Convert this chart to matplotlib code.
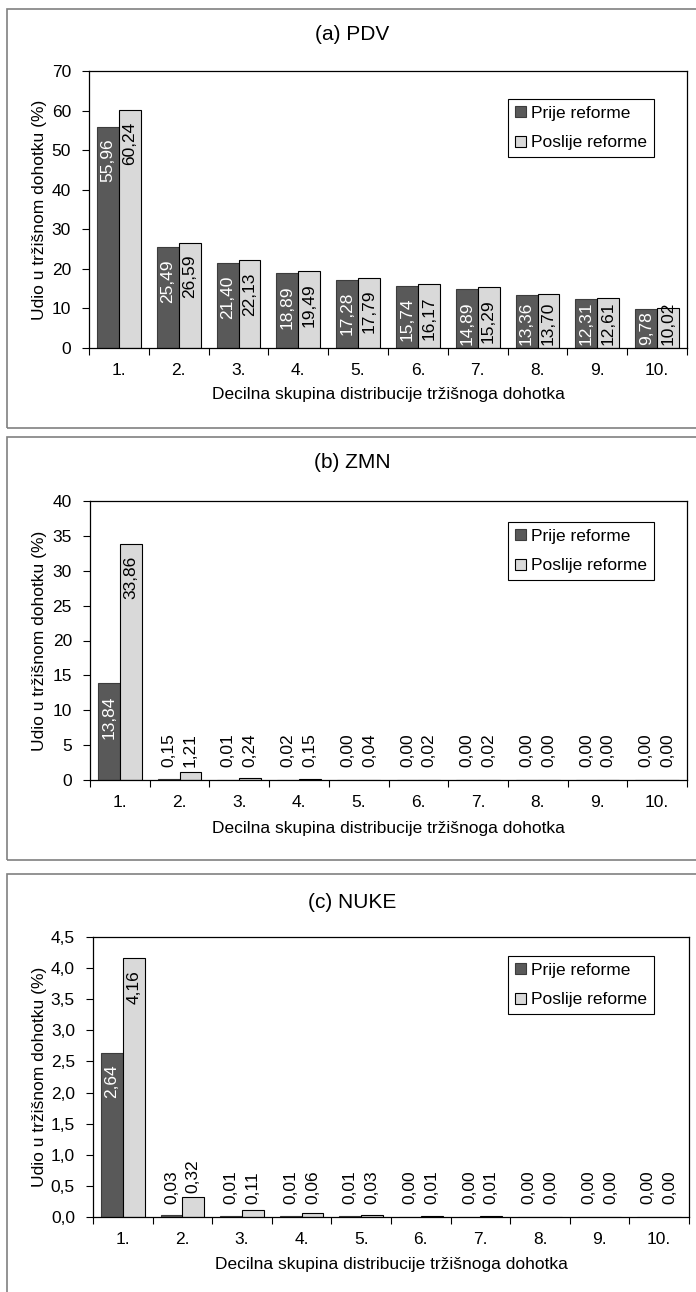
import matplotlib
matplotlib.use("Agg")
import matplotlib.pyplot as plt
from matplotlib.patches import Rectangle
from matplotlib.ticker import FixedLocator, FuncFormatter

plt.rcParams['font.family'] = ['Liberation Sans', 'DejaVu Sans']
plt.rcParams['font.size'] = 12.5

# podaci
decili = ["1.", "2.", "3.", "4.", "5.", "6.", "7.", "8.", "9.", "10."]
serije = ["Prije reforme", "Poslije reforme"]

pdv_prije = [55.96, 25.49, 21.40, 18.89, 17.28, 15.74, 14.89, 13.36, 12.31, 9.78]
pdv_poslije = [60.24, 26.59, 22.13, 19.49, 17.79, 16.17, 15.29, 13.70, 12.61, 10.02]

zmn_prije = [13.84, 0.15, 0.01, 0.02, 0.00, 0.00, 0.00, 0.00, 0.00, 0.00]
zmn_poslije = [33.86, 1.21, 0.24, 0.15, 0.04, 0.02, 0.02, 0.00, 0.00, 0.00]

nuke_prije = [2.64, 0.03, 0.01, 0.01, 0.01, 0.00, 0.00, 0.00, 0.00, 0.00]
nuke_poslije = [4.16, 0.32, 0.11, 0.06, 0.03, 0.01, 0.01, 0.00, 0.00, 0.00]

naslovi = ["(a) PDV", "(b) ZMN", "(c) NUKE"]
y_max = [70, 40, 4.5]
y_korak = [10, 5, 0.5]

xlabel = "Decilna skupina distribucije tržišnoga dohotka"
ylabel = "Udio u tržišnom dohotku (%)"

# raspored u pikselima (slika 696x1292)
W, H = 696, 1292
DPI = 100
PT = 72 / DPI
# (lijevo, desno, gore, dolje) osi
osi_px = [(89, 687, 71, 348), (90, 687, 501, 780), (93, 689, 937, 1217)]
okvir_px = [(9, 428), (437, 860), (874, 1310)]
naslov_y = [35, 463, 903]
xlabel_y = [395, 828, 1265]
legenda_c = [(581, 128), (581, 551), (581, 985)]

TAMNA = "#595959"
SVIJETLA = "#d9d9d9"


def fx(x):
    return x / W


def fy(y):
    return 1 - y / H


def fmt(v):
    return f"{v:.2f}".replace(".", ",")


fig = plt.figure(figsize=(W / DPI, H / DPI), dpi=DPI)

podaci = [(pdv_prije, pdv_poslije), (zmn_prije, zmn_poslije), (nuke_prije, nuke_poslije)]
unutra = []  # oznake unutar stupaca, za naknadnu korekciju

for i, (prije, poslije) in enumerate(podaci):
    l, r, t, b = osi_px[i]
    ax = fig.add_axes([fx(l), fy(b), (r - l) / W, (b - t) / H])

    x = list(range(1, 11))
    w = 0.365
    b1 = ax.bar([v - w / 2 for v in x], prije, w, color=TAMNA, edgecolor="#3c3c3c",
                linewidth=0.8, label=serije[0])
    b2 = ax.bar([v + w / 2 for v in x], poslije, w, color=SVIJETLA, edgecolor="black",
                linewidth=0.8, label=serije[1])

    ax.set_xlim(0.5, 10.5)
    ax.set_ylim(0, y_max[i])
    n = int(round(y_max[i] / y_korak[i]))
    ax.set_yticks([k * y_korak[i] for k in range(n + 1)])
    if y_korak[i] < 1:
        ax.yaxis.set_major_formatter(FuncFormatter(lambda v, p: f"{v:.1f}".replace(".", ",")))
    else:
        ax.yaxis.set_major_formatter(FuncFormatter(lambda v, p: f"{v:.0f}"))

    ax.set_xticks(x)
    ax.set_xticklabels(decili)
    ax.xaxis.set_minor_locator(FixedLocator([k + 0.5 for k in range(0, 11)]))
    ax.tick_params(axis="x", which="major", length=0, pad=10.5)
    ax.tick_params(axis="x", which="minor", length=5, width=0.8, direction="out")
    ax.tick_params(axis="y", length=5, width=0.8, direction="out", pad=8)
    for s in ax.spines.values():
        s.set_linewidth(0.9)

    # oznake vrijednosti
    base = ax.transData.transform((0, 0))[1]
    for bars, vals, boja in ((b1, prije, "white"), (b2, poslije, "black")):
        for bar, v in zip(bars, vals):
            xc = bar.get_x() + bar.get_width() / 2
            h = ax.transData.transform((0, v))[1] - base
            if h > 30:
                tx = ax.annotate(fmt(v), (xc, v), xytext=(0, -12 * PT), textcoords="offset points",
                                 rotation=90, ha="center", va="top", color=boja)
                unutra.append((tx, base))
            else:
                off = max(4, 13 - h)
                ax.annotate(fmt(v), (xc, v), xytext=(0, off * PT), textcoords="offset points",
                            rotation=90, ha="center", va="bottom", color="black")

    leg = ax.legend(loc="center", bbox_to_anchor=(fx(legenda_c[i][0]), fy(legenda_c[i][1])),
                    bbox_transform=fig.transFigure, handlelength=0.6, handleheight=0.6,
                    handletextpad=0.3, labelspacing=0.85, borderpad=0.4,
                    fancybox=False, framealpha=1, edgecolor="black")
    leg.get_frame().set_linewidth(0.8)

    fig.text(fx(352), fy(naslov_y[i]), naslovi[i], ha="center", va="center", fontsize=15)
    fig.text(fx((l + r) / 2), fy(xlabel_y[i]), xlabel, ha="center", va="center")
    fig.text(fx(40), fy((t + b) / 2), ylabel, ha="center", va="center", rotation=90)

    o_t, o_b = okvir_px[i]
    fig.add_artist(Rectangle((fx(7), fy(o_b)), (720 - 7) / W, (o_b - o_t) / H,
                             transform=fig.transFigure, fill=False,
                             edgecolor="#808080", linewidth=1.2))

# oznake koje bi izašle ispod osi pomakni gore
fig.canvas.draw()
for tx, base in unutra:
    bb = tx.get_window_extent()
    if bb.y0 < base + 3:
        dy = base + 3 - bb.y0
        tx.xyann = (0, tx.xyann[1] + dy * PT)

fig.savefig("out.png", dpi=DPI)
